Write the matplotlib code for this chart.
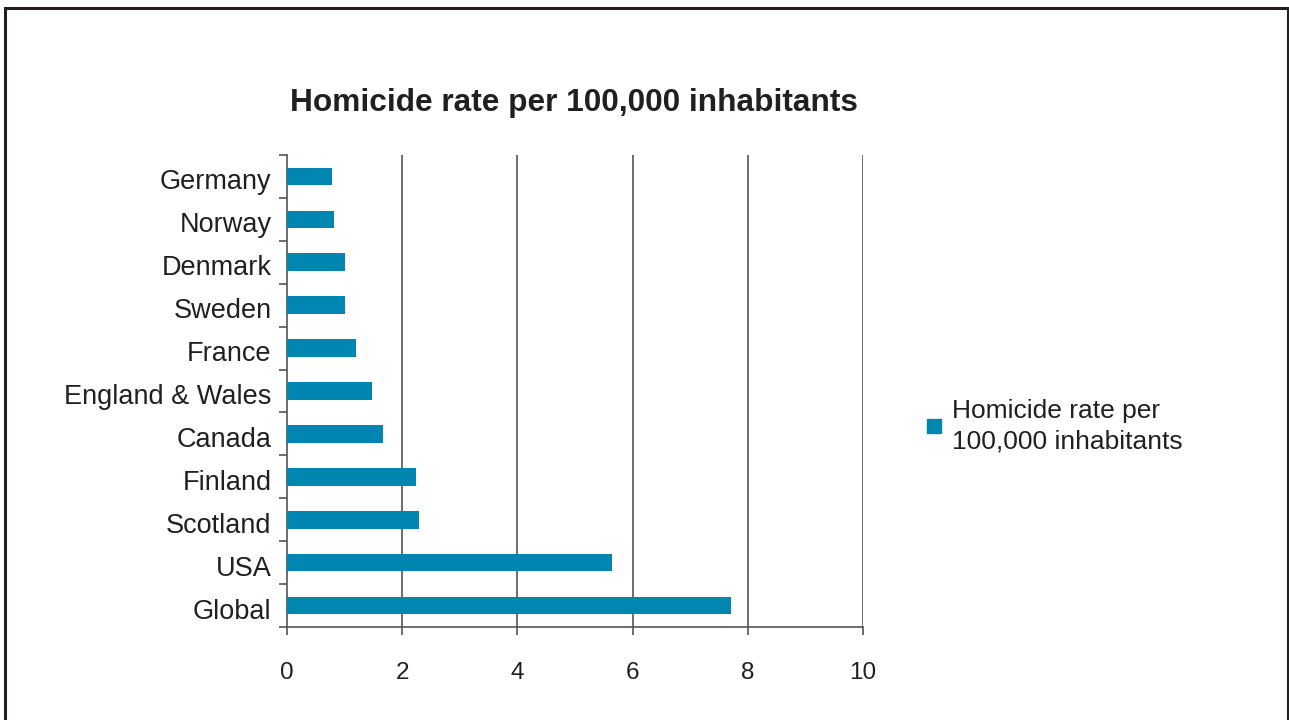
import matplotlib
matplotlib.use("Agg")
import matplotlib.pyplot as plt
from matplotlib.patches import Rectangle
from matplotlib.lines import Line2D
from matplotlib.transforms import ScaledTranslation

countries = ["Global", "USA", "Scotland", "Finland", "Canada", "England & Wales",
             "France", "Sweden", "Denmark", "Norway", "Germany"]
rates = [7.71, 5.65, 2.3, 2.24, 1.66, 1.47, 1.2, 1.0, 1.0, 0.81, 0.78]
x_ticks = [0, 2, 4, 6, 8, 10]
series_name = "Homicide rate per\n100,000 inhabitants"
title = "Homicide rate per 100,000 inhabitants"

bar_color = "#0086B1"
plt.rcParams["font.family"] = ["Liberation Sans", "DejaVu Sans"]

fig = plt.figure(figsize=(12.89, 7.2), dpi=100)
fig.patch.set_facecolor("white")

# outer chart frame
fig.add_artist(Rectangle((4.5 / 1289, -0.05), (1288 - 4.5) / 1289, 1.05 - 7.5 / 720,
                         transform=fig.transFigure, fill=False,
                         edgecolor="#231F20", linewidth=2.2))

ax = fig.add_axes([287 / 1289, 1 - 627 / 720, (863 - 287) / 1289, (627 - 155) / 720])

y = list(range(len(countries)))
ax.barh(y, rates, height=0.41, color=bar_color, zorder=3)

ax.set_xlim(0, 10)
ax.set_ylim(-0.5, len(countries) - 0.5)
ax.set_xticks(x_ticks)
ax.set_xticklabels([str(t) for t in x_ticks], fontsize=17.5)
ax.tick_params(axis="x", direction="out", length=6, width=1.2, color="#555555", pad=19)

ax.set_yticks(y)
ax.set_yticklabels(countries, fontsize=19.5)
ax.tick_params(axis="y", which="major", length=0, pad=11)
ax.set_yticks([i - 0.5 for i in range(len(countries) + 1)], minor=True)
ax.tick_params(axis="y", which="minor", direction="out", length=6, width=1.2, color="#555555")

# category labels sit a touch below the bar centres
shift = ScaledTranslation(0, -3 / 100, fig.dpi_scale_trans)
for lbl in ax.get_yticklabels():
    lbl.set_transform(lbl.get_transform() + shift)

for t in x_ticks[1:]:
    ax.axvline(t, color="#555555", linewidth=1.2, zorder=1)

for side in ["top", "right"]:
    ax.spines[side].set_visible(False)
ax.spines["left"].set_color("#555555")
ax.spines["bottom"].set_color("#555555")
ax.spines["left"].set_linewidth(1.2)
ax.spines["bottom"].set_linewidth(1.2)

fig.text(573.5 / 1289, 1 - 103 / 720, title, fontsize=22.8, fontweight="bold",
         ha="center", va="center", color="#231F20")

handle = Line2D([], [], marker="s", linestyle="none", markersize=10.5,
                markerfacecolor=bar_color, markeredgecolor=bar_color)
leg = fig.legend([handle], [series_name], loc="center left",
                 bbox_to_anchor=(902 / 1289, 1 - 426 / 720), frameon=False,
                 fontsize=19, handlelength=0.6, handletextpad=0.38, labelcolor="#231F20")
for txt in leg.get_texts():
    txt.set_linespacing(1.35)

for lbl in ax.get_xticklabels() + ax.get_yticklabels():
    lbl.set_color("#231F20")

fig.savefig("out.png", dpi=100, facecolor="white")
